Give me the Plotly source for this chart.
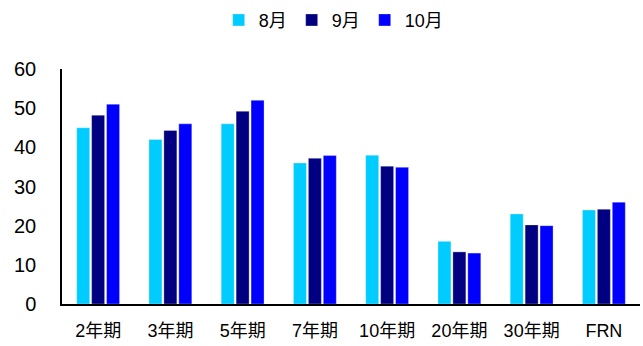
import plotly.graph_objects as go

categories = ["2年期", "3年期", "5年期", "7年期", "10年期", "20年期", "30年期", "FRN"]
aug = [45.0, 42.0, 46.0, 36.0, 38.0, 16.0, 23.0, 24.0]
sep = [48.2, 44.3, 49.2, 37.2, 35.2, 13.3, 20.2, 24.2]
oct_ = [51.0, 46.0, 52.0, 37.9, 34.9, 13.0, 20.0, 26.0]

series = [("8月", aug, "#00CCFF"), ("9月", sep, "#000080"), ("10月", oct_, "#0000FF")]

fig = go.Figure()
for name, vals, color in series:
    fig.add_trace(go.Bar(
        x=categories, y=vals, name=name,
        marker=dict(color=color, line=dict(color="rgba(255,255,255,0.5)", width=0.6)),
    ))

font_family = "Liberation Sans, Arial, Noto Sans CJK SC, sans-serif"
fig.update_layout(
    width=643, height=346,
    margin=dict(l=62, r=3, t=69, b=42),
    paper_bgcolor="white", plot_bgcolor="white",
    barmode="group", bargap=0.38, bargroupgap=0.13,
    font=dict(family=font_family, size=18, color="#000000"),
    legend=dict(
        orientation="h", x=0.47, xanchor="center", y=0.995, yanchor="top",
        yref="container", font=dict(size=18), itemwidth=30,
        traceorder="normal",
    ),
    xaxis=dict(
        showline=True, linecolor="#000000", linewidth=1.5,
        ticks="", showgrid=False, tickfont=dict(size=18),
        ticklabelstandoff=10,
    ),
    yaxis=dict(
        range=[0, 60], dtick=10, showline=True, linecolor="#000000", linewidth=1.5,
        ticks="", showgrid=False, zeroline=False, tickfont=dict(size=20),
        ticklabelstandoff=20,
    ),
)

fig.write_html("out.html")
